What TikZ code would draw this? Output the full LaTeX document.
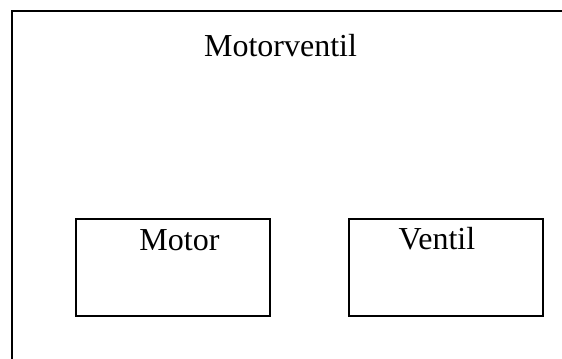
\documentclass[tikz,border=0pt]{standalone}
\usepackage{fontspec}
\setmainfont{Liberation Serif}
\usepackage{tikz}
\usetikzlibrary{positioning}

\tikzset{
  block/.style={draw, line width=1.5pt, minimum width=145.5pt, minimum height=72.4pt, inner sep=0pt},
  caption/.style={font=\fontsize{24}{28}\selectfont, anchor=base, inner sep=0pt}
}

\begin{document}
\begin{tikzpicture}[x=0.75pt, y=0.75pt]
  \useasboundingbox (0,0) rectangle (562,358);
  \clip (0,0) rectangle (562,358);
  \fill[white] (0,0) rectangle (562,358);
  % outer housing, runs off to the right and bottom
  \draw[line width=1.5pt] (12,-20) -- (12,346.5) -- (580,346.5);
  \node[caption] (title) at (280.5,301) {Motorventil};
  % the two parts
  \node[block] (motor) at (172.75,90.75) {};
  \node[block] (ventil) at (445.5,90.75) {};
  \node[caption] (motorname) at ([xshift=5pt, yshift=-24.75pt]motor.north) {Motor};
  \node[caption] (ventilname) at ([xshift=-6.4pt, yshift=-24pt]ventil.north) {Ventil};
\end{tikzpicture}
\end{document}
